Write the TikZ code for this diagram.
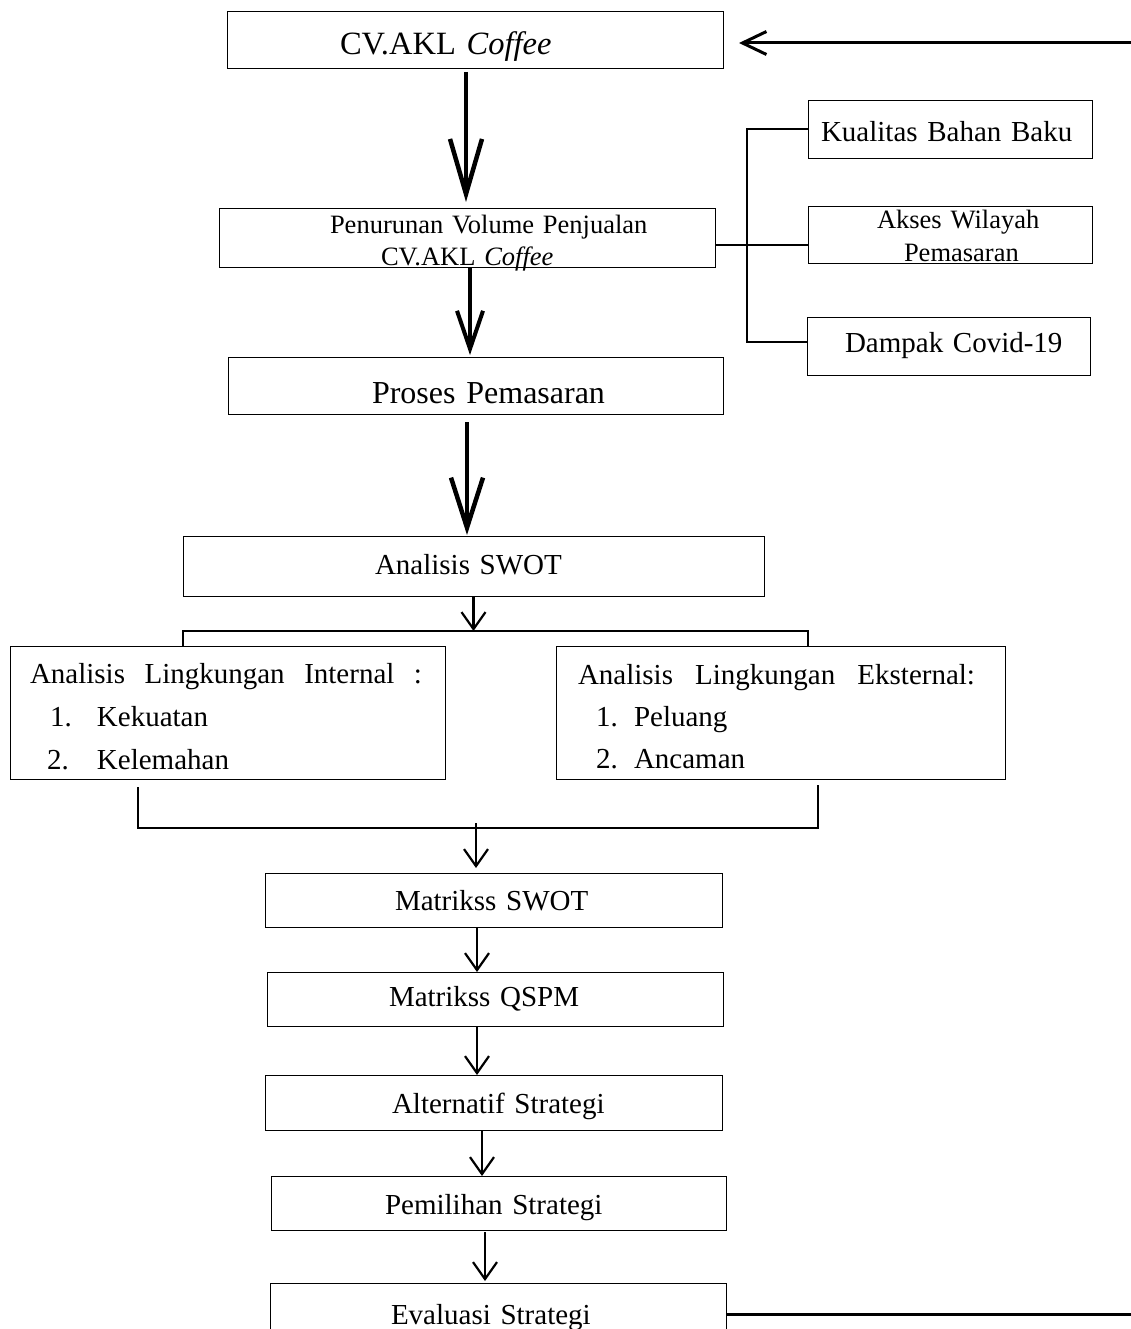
\documentclass[tikz,border=0pt]{standalone}
\usepackage{fontspec}
\setmainfont{Liberation Serif}
\usetikzlibrary{arrows.meta}
\setlength\parindent{0pt}
\newcommand\lowtxt[2]{\raisebox{-#1}[0pt][0pt]{#2}}
\tikzset{
  box/.style={draw, line width=1pt, inner sep=0pt, outer sep=0pt, anchor=north west, align=left},
  bw/.style={text width=#1, minimum width=#1},
  fbig/.style={font=\fontsize{32.5}{39}\selectfont},
  fmid/.style={font=\fontsize{29}{35}\selectfont},
  fsma/.style={font=\fontsize{26.5}{32}\selectfont},
  fsmb/.style={font=\fontsize{26.5}{33}\selectfont},
  flist/.style={font=\fontsize{29}{43}\selectfont},
  arrA/.style={line width=4.5pt, -{Straight Barb[length=55pt,width=32pt]}},
  arrB/.style={line width=4pt, -{Straight Barb[length=38pt,width=26pt]}},
  arrC/.style={line width=4.5pt, -{Straight Barb[length=50pt,width=32pt]}},
  smallarr/.style={line width=2.2pt, -{Straight Barb[length=17pt,width=24pt]}},
  toparr/.style={line width=3pt, -{Straight Barb[length=24pt,width=23pt]}},
  brk/.style={line width=2pt},
  side/.style={line width=1.5pt},
}
\begin{document}
\begin{tikzpicture}[x=1pt, y=-1pt]
\path[use as bounding box, clip] (0,0) rectangle (1131,1329);

% main column
\node[box, bw=496pt, minimum height=57pt, fbig] (cv) at (227,12) {\hspace*{113pt}\lowtxt{14.5pt}{CV.AKL \textit{Coffee}}};
\node[box, bw=496pt, minimum height=59pt, fsma] (pen) at (219,209) {\hspace*{111pt}\lowtxt{11pt}{Penurunan Volume Penjualan}\\%
\hspace*{162pt}\lowtxt{11pt}{CV.AKL \textit{Coffee}}};
\node[box, bw=495pt, minimum height=57pt, fbig] (pro) at (228,357) {\hspace*{144pt}\lowtxt{18pt}{\fontsize{32}{38}\selectfont Proses Pemasaran}};
\node[box, bw=581pt, minimum height=60pt, fmid] (swot) at (183,536) {\hspace*{192pt}\lowtxt{8.5pt}{Analisis SWOT}};

% side factors
\node[box, bw=284pt, minimum height=58pt, fmid] (kual) at (808,101) {\hspace*{13pt}\lowtxt{12pt}{Kualitas Bahan Baku}};
\node[box, bw=284pt, minimum height=57pt, fsmb] (akses) at (808,207) {\hspace*{69pt}\lowtxt{10pt}{Akses Wilayah}\\%
\hspace*{96pt}\lowtxt{10pt}{Pemasaran}};
\node[box, bw=283pt, minimum height=58pt, fmid] (dampak) at (807,317) {\hspace*{38pt}\lowtxt{6pt}{Dampak Covid-19}};

% internal / external
\node[box, bw=435pt, minimum height=133pt, flist] (intern) at (10,646) {\hspace*{20pt}\lowtxt{14pt}{\makebox[392pt]{Analisis\hfill Lingkungan\hfill Internal\hfill :}}\\%
\hspace*{40pt}\lowtxt{14pt}{\makebox[47pt][l]{1.}Kekuatan}\\%
\hspace*{37pt}\lowtxt{14pt}{\makebox[50pt][l]{2.}Kelemahan}};
\node[box, bw=449pt, minimum height=133pt, font=\fontsize{29}{42}\selectfont] (ekstern) at (556,646) {\hspace*{22pt}\lowtxt{13.5pt}{\makebox[397pt]{Analisis\hfill Lingkungan\hfill Eksternal:}}\\%
\hspace*{40pt}\lowtxt{13.5pt}{\makebox[38pt][l]{1.}Peluang}\\%
\hspace*{40pt}\lowtxt{13.5pt}{\makebox[38pt][l]{2.}Ancaman}};

% lower column
\node[box, bw=457pt, minimum height=54pt, fmid] (msw) at (265,873) {\hspace*{130pt}\lowtxt{10pt}{Matrikss SWOT}};
\node[box, bw=456pt, minimum height=54pt, fmid] (qspm) at (267,972) {\hspace*{122pt}\lowtxt{7.5pt}{Matrikss QSPM}};
\node[box, bw=457pt, minimum height=55pt, fmid] (alt) at (265,1075) {\hspace*{127pt}\lowtxt{10.5pt}{Alternatif Strategi}};
\node[box, bw=455pt, minimum height=54pt, fmid] (pem) at (271,1176) {\hspace*{114pt}\lowtxt{11pt}{Pemilihan Strategi}};
\node[box, bw=456pt, minimum height=62pt, fmid] (eval) at (270,1283) {\hspace*{121pt}\lowtxt{10.5pt}{Evaluasi Strategi}};

% coordinates
\coordinate (topR) at (1131,43);
\coordinate (botR) at (1131,1314);
\coordinate (hub) at (747,245);
\coordinate (split) at (473.5,631);
\coordinate (merge) at (476,828);

% main arrows
\draw[arrA, shorten <=3pt, shorten >=7pt] ([xshift=-9pt]cv.south) -- ([xshift=-9pt]cv.south |- pen.north);
\draw[arrB, shorten >=2pt] ([xshift=3pt]pen.south) -- ([xshift=3pt]pen.south |- pro.north);
\draw[arrC, shorten <=8pt, shorten >=1pt] ([xshift=-8.5pt]pro.south) -- ([xshift=-8.5pt]pro.south |- swot.north);

% side connectors
\draw[side] (pen.east |- hub) -- (akses.west |- hub);
\draw[side] ([yshift=1pt]kual.west) -| (hub) |- ([yshift=4pt]dampak.west);

% split bracket
\draw[smallarr] (swot.south) -- (split);
\draw[brk] ([xshift=-44.5pt]intern.north) |- (split) -| ([xshift=27.5pt]ekstern.north);

% merge bracket
\draw[brk] ([xshift=-89.5pt,yshift=-8pt]intern.south) |- (merge) -| ([xshift=37.5pt,yshift=-6pt]ekstern.south);
\draw[smallarr, shorten >=5pt] ([yshift=5pt]merge) -- (merge |- msw.north);

% lower arrows
\draw[smallarr] ([xshift=-16.5pt]msw.south) -- ([xshift=-16.5pt]msw.south |- qspm.north);
\draw[smallarr] ([xshift=-18pt]qspm.south) -- ([xshift=-18pt]qspm.south |- alt.north);
\draw[smallarr] ([xshift=-11.5pt]alt.south) -- ([xshift=-11.5pt]alt.south |- pem.north);
\draw[smallarr, shorten <=2pt, shorten >=2pt] ([xshift=-13.5pt]pem.south) -- ([xshift=-13.5pt]pem.south |- eval.north);

% feedback lines
\draw[toparr, shorten >=16pt] (topR) -- (cv.east |- topR);
\draw[line width=3pt] (eval.east) -- (botR);
\end{tikzpicture}
\end{document}
